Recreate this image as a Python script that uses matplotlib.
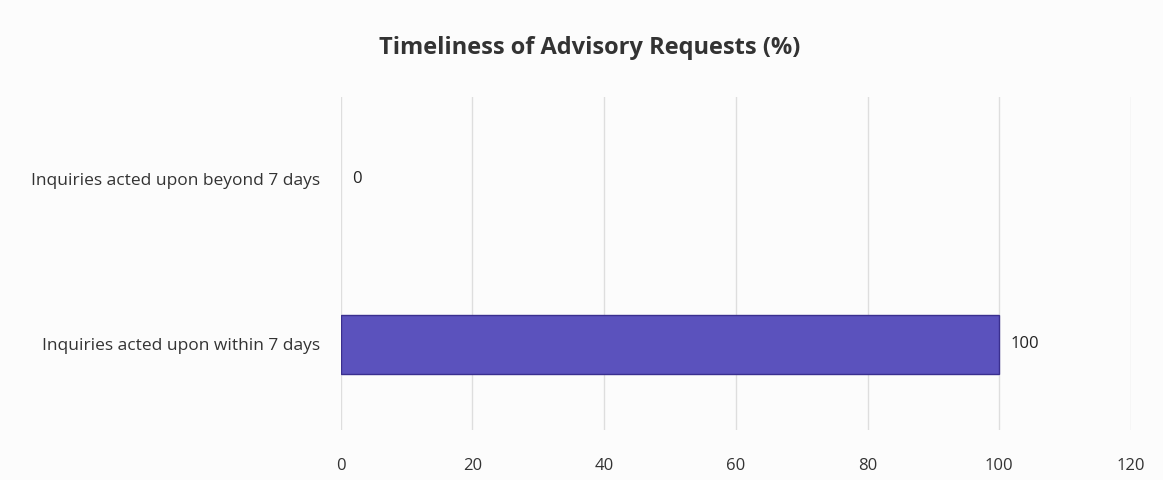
import matplotlib
matplotlib.use("Agg")
import matplotlib.pyplot as plt
from matplotlib.transforms import offset_copy

# chart data
categories = ["Inquiries acted upon beyond 7 days", "Inquiries acted upon within 7 days"]
values = [0, 100]
x_ticks = [0, 20, 40, 60, 80, 100, 120]

plt.rcParams['font.family'] = ['Open Sans', 'DejaVu Sans']

fig = plt.figure(figsize=(11.63, 4.8), dpi=100)
fig.patch.set_facecolor('#fcfcfc')
ax = fig.add_axes([0.293, 0.104, 0.6795, 0.694])
ax.set_facecolor('#fcfcfc')

ypos = list(range(len(categories)))
edges = ['#3a2f8f' if v > 0 else 'none' for v in values]   # no outline on the zero bar
ax.barh(ypos, values, height=0.36, color='#5b52bd', edgecolor=edges, linewidth=1.0, zorder=3)

# value labels sit a few pixels right of the bar end
lab_tr = offset_copy(ax.transData, fig=fig, x=11, y=0, units='dots')
for y, v in zip(ypos, values):
    ax.text(v, y, str(v), va='center', ha='left', fontsize=12, color='#222222',
            transform=lab_tr)

ax.set_xlim(0, 120)
ax.set_ylim(-0.5, 1.52)
ax.invert_yaxis()
ax.set_xticks(x_ticks)
ax.set_yticks(ypos)
ax.set_yticklabels(categories)
ax.tick_params(axis='both', length=0, labelsize=12.5, colors='#333333')
ax.tick_params(axis='x', labelsize=12, pad=20)
ax.tick_params(axis='y', pad=15)
ax.grid(axis='x', color='#dedede', linewidth=1.0, zorder=0)
for s in ax.spines.values():
    s.set_visible(False)

fig.text(0.507, 0.9, "Timeliness of Advisory Requests (%)", ha='center', va='center',
         fontsize=17, fontweight='bold', color='#333333')

fig.savefig("out.png", dpi=100, facecolor=fig.get_facecolor())
